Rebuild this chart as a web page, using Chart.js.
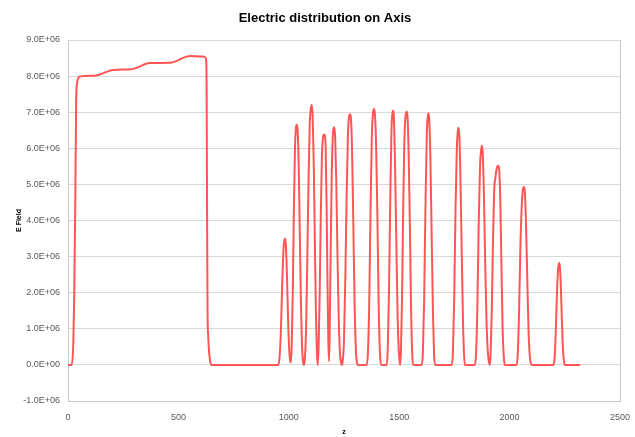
<!DOCTYPE html>
<html><head><meta charset="utf-8">
<script src="https://cdn.jsdelivr.net/npm/chart.js@4.4.1/dist/chart.umd.min.js"></script>
<style>html,body{margin:0;padding:0;background:#fff;} canvas{display:block;}</style>
</head><body>
<canvas id="c" width="635" height="437"></canvas>
<script>
// z positions along the axis
const zPositions = [
  0, 17, 24, 28, 33, 37, 41, 46, 51, 115, 137, 205, 288, 371, 462, 553, 613, 622, 626, 628, 630, 632, 635, 639, 644, 650,
  950,
  952, 958, 964, 970, 976, 980, 983, 987, 992, 997, 1002, 1006, 1009,
  1013, 1018, 1023, 1028, 1033, 1036, 1040, 1045, 1050, 1055, 1060, 1065, 1069,
  1073, 1078, 1083, 1089, 1095, 1100, 1104, 1108, 1113, 1118, 1123, 1127, 1131,
  1135, 1140, 1145, 1150, 1155, 1160, 1164, 1167, 1171, 1175, 1179, 1182,
  1185, 1189, 1194, 1199, 1203, 1206, 1210, 1215, 1220, 1226, 1232, 1237, 1240,
  1244, 1250, 1256, 1262, 1268, 1273, 1277, 1281, 1286, 1292, 1298, 1304, 1309, 1313,
  1353, 1358, 1364, 1370, 1376, 1381, 1386, 1390, 1395, 1401, 1407, 1413, 1418,
  1443, 1448, 1454, 1460, 1465, 1469, 1472, 1476, 1481, 1487, 1493, 1499, 1504,
  1508, 1513, 1518, 1523, 1528, 1534, 1538, 1543, 1549, 1554, 1559, 1563,
  1602, 1607, 1613, 1619, 1625, 1629, 1632, 1636, 1641, 1647, 1653, 1658, 1662,
  1738, 1743, 1749, 1755, 1761, 1765, 1768, 1772, 1777, 1783, 1789, 1794, 1798,
  1843, 1848, 1854, 1860, 1866, 1871, 1874, 1878, 1883, 1889, 1895, 1901, 1906, 1911,
  1914, 1919, 1924, 1930, 1936, 1942, 1949, 1953, 1958, 1963, 1968, 1974, 1979,
  2032, 2037, 2043, 2049, 2055, 2060, 2065, 2069, 2074, 2080, 2086, 2093, 2100,
  2198, 2204, 2209, 2214, 2219, 2222, 2225, 2228, 2232, 2237, 2242, 2247, 2251, 2320
];
// electric field values
const eField = [
  0, 0, 0.6e6, 1.8e6, 4.5e6, 7.3e6, 7.8e6, 7.93e6, 7.98e6, 8.01e6, 8.03e6, 8.17e6, 8.19e6, 8.36e6, 8.37e6, 8.56e6, 8.54e6, 8.52e6, 8.4e6, 7.5e6, 4.0e6, 1.5e6, 0.8e6, 0.35e6, 0.1e6, 0,
  0,
  0, 0.2e6, 0.9e6, 2.2e6, 3.2e6, 3.45e6, 3.5e6, 3.3e6, 2.4e6, 1.2e6, 0.4e6, 0.12e6, 0.07e6,
  0.5e6, 2.0e6, 4.3e6, 6.0e6, 6.6e6, 6.65e6, 6.5e6, 5.5e6, 3.6e6, 1.7e6, 0.5e6, 0.08e6, 0,
  0.2e6, 0.9e6, 2.6e6, 5.0e6, 6.7e6, 7.1e6, 7.2e6, 6.9e6, 5.6e6, 3.4e6, 1.4e6, 0.4e6, 0,
  0.5e6, 2.0e6, 4.2e6, 5.8e6, 6.3e6, 6.38e6, 6.35e6, 6.0e6, 4.5e6, 2.4e6, 0.7e6, 0.1e6,
  0.8e6, 2.8e6, 5.1e6, 6.3e6, 6.55e6, 6.58e6, 6.3e6, 5.1e6, 3.2e6, 1.3e6, 0.3e6, 0.05e6, 0,
  0.1e6, 0.7e6, 2.4e6, 4.7e6, 6.4e6, 6.88e6, 6.94e6, 6.85e6, 6.1e6, 4.0e6, 1.7e6, 0.4e6, 0.05e6, 0,
  0, 0.3e6, 1.6e6, 4.2e6, 6.3e6, 6.95e6, 7.09e6, 6.95e6, 6.2e6, 4.2e6, 1.7e6, 0.3e6, 0,
  0, 0.4e6, 2.1e6, 4.8e6, 6.5e6, 6.95e6, 7.04e6, 6.85e6, 5.6e6, 3.4e6, 1.3e6, 0.3e6, 0,
  0.4e6, 1.9e6, 4.3e6, 6.1e6, 6.85e6, 7.02e6, 6.85e6, 5.8e6, 3.6e6, 1.5e6, 0.3e6, 0,
  0, 0.3e6, 1.8e6, 4.4e6, 6.4e6, 6.85e6, 6.97e6, 6.8e6, 5.8e6, 3.6e6, 1.4e6, 0.3e6, 0,
  0, 0.3e6, 1.8e6, 4.3e6, 6.0e6, 6.45e6, 6.57e6, 6.4e6, 5.3e6, 3.2e6, 1.2e6, 0.25e6, 0,
  0, 0.3e6, 1.6e6, 3.9e6, 5.5e6, 5.95e6, 6.07e6, 5.9e6, 4.9e6, 3.0e6, 1.3e6, 0.4e6, 0.1e6, 0,
  0.3e6, 1.4e6, 3.2e6, 4.8e6, 5.2e6, 5.45e6, 5.52e6, 5.4e6, 4.5e6, 2.8e6, 1.1e6, 0.2e6, 0,
  0, 0.3e6, 1.5e6, 3.3e6, 4.4e6, 4.85e6, 4.93e6, 4.8e6, 4.0e6, 2.4e6, 0.9e6, 0.15e6, 0,
  0, 0.2e6, 0.9e6, 1.9e6, 2.6e6, 2.78e6, 2.82e6, 2.7e6, 2.2e6, 1.2e6, 0.4e6, 0.08e6, 0, 0
];
const xTickValues = [0, 500, 1000, 1500, 2000, 2500];
const xTickLabels = ['0', '500', '1000', '1500', '2000', '2500'];
const yTickValues = [-1e6, 0, 1e6, 2e6, 3e6, 4e6, 5e6, 6e6, 7e6, 8e6, 9e6];
const yTickLabels = ['-1.0E+06', '0.0E+00', '1.0E+06', '2.0E+06', '3.0E+06', '4.0E+06', '5.0E+06', '6.0E+06', '7.0E+06', '8.0E+06', '9.0E+06'];
const chartTitle = 'Electric distribution on Axis';
const xTitle = 'z';
const yTitle = 'E Field';

const points = zPositions.map((z, i) => ({ x: z, y: eField[i] }));
const FONT = "'Liberation Sans Narrow', 'Arial Narrow', 'Liberation Sans', sans-serif";

const rightBorder = {
  id: 'rightBorder',
  afterDraw(chart) {
    const { ctx, chartArea } = chart;
    ctx.save();
    ctx.strokeStyle = '#c8c8c8';
    ctx.lineWidth = 1;
    ctx.beginPath();
    ctx.moveTo(Math.round(chartArea.right) + 0.5, chartArea.top);
    ctx.lineTo(Math.round(chartArea.right) + 0.5, chartArea.bottom);
    ctx.stroke();
    ctx.restore();
  }
};

new Chart(document.getElementById('c'), {
  type: 'line',
  data: {
    datasets: [{
      data: points,
      borderColor: '#ff5555',
      borderWidth: 2,
      pointRadius: 0,
      fill: false,
      cubicInterpolationMode: 'monotone'
    }]
  },
  plugins: [rightBorder],
  options: {
    responsive: false,
    animation: false,
    devicePixelRatio: 1,
    layout: { padding: { left: 15, right: 0, top: 0, bottom: 0 } },
    plugins: {
      legend: { display: false },
      tooltip: { enabled: false },
      title: {
        display: true,
        text: chartTitle,
        color: '#000',
        font: { family: FONT, size: 13, weight: 'bold', lineHeight: 1.2 },
        padding: { top: 11, bottom: 13.4 }
      }
    },
    scales: {
      x: {
        type: 'linear',
        min: 0, max: 2500,
        afterBuildTicks: s => { s.ticks = xTickValues.map(v => ({ value: v })); },
        afterFit: s => { s.height = 36; s.paddingRight = 15; },
        ticks: {
          callback: (v, i) => xTickLabels[i],
          color: '#595959',
          font: { family: FONT, size: 9 },
          padding: 11,
          maxRotation: 0
        },
        grid: { display: false, drawTicks: false },
        border: { color: '#c8c8c8' },
        title: {
          display: true, text: xTitle, color: '#000',
          font: { family: FONT, size: 7, weight: 'bold', lineHeight: 1.2 },
          padding: { top: 0, bottom: 1 }
        }
      },
      y: {
        type: 'linear',
        min: -1e6, max: 9e6,
        afterBuildTicks: s => { s.ticks = yTickValues.map(v => ({ value: v })); },
        afterFit: s => { s.width = 53; },
        ticks: {
          callback: (v, i) => yTickLabels[i],
          color: '#595959',
          font: { family: FONT, size: 9 },
          padding: 8
        },
        grid: { color: '#d9d9d9', drawTicks: false },
        border: { color: '#c8c8c8' },
        title: {
          display: true, text: yTitle, color: '#000',
          font: { family: FONT, size: 7, weight: 'bold', lineHeight: 1.2 },
          padding: { top: 0, bottom: 0 }
        }
      }
    }
  }
});
</script>
</body></html>
